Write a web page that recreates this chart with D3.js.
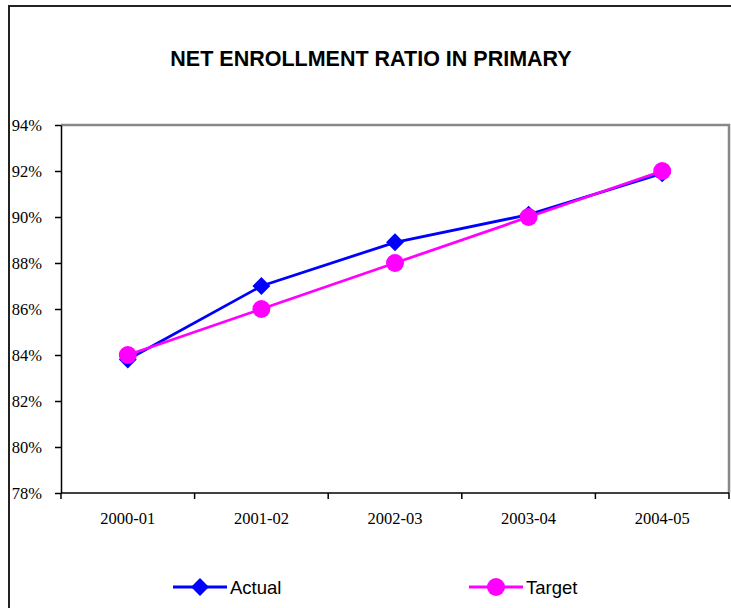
<!DOCTYPE html>
<meta charset="utf-8">
<style>
body {
  margin: 0;
  background-color: #ffffff;
}
.title {
  font-family: 'Liberation Sans', Arial, sans-serif;
  font-weight: bold;
  font-size: 21.5px;
  fill: #000;
}
.axis text {
  font-family: 'Liberation Serif', 'Times New Roman', serif;
  font-size: 16.5px;
  fill: #000;
}
.axis path,
.axis line {
  stroke: #000;
  stroke-width: 1.5px;
}
.legend text {
  font-family: 'Liberation Sans', Arial, sans-serif;
  font-size: 18.5px;
  fill: #000;
}
</style>
<svg width="731" height="608"></svg>
<script src="https://d3js.org/d3.v7.min.js"></script>
<script>
var categories = ["2000-01", "2001-02", "2002-03", "2003-04", "2004-05"];
var actual = [83.8, 87.0, 88.9, 90.1, 91.9];
var target = [84, 86, 88, 90, 92];
var yTicks = [78, 80, 82, 84, 86, 88, 90, 92, 94];

var svg = d3.select("svg"),
    margin = {top: 125, right: 2, bottom: 115, left: 61},
    width = +svg.attr("width") - margin.left - margin.right,
    height = +svg.attr("height") - margin.top - margin.bottom;

// outer chart frame (right and bottom edges are off the picture)
svg.append("path")
    .attr("d", "M9,608V6H731")
    .attr("fill", "none")
    .attr("stroke", "#222")
    .attr("stroke-width", 2);

svg.append("text")
    .attr("class", "title")
    .attr("x", 371)
    .attr("y", 66)
    .attr("text-anchor", "middle")
    .text("NET ENROLLMENT RATIO IN PRIMARY");

var x = d3.scaleBand().domain(categories).range([0, width]);
var y = d3.scaleLinear().domain([78, 94]).range([height, 0]);

var g = svg.append("g")
    .attr("transform", "translate(" + margin.left + "," + margin.top + ")");

// plot area border: top and right in grey
g.append("path")
    .attr("d", "M0,0H" + width + "V" + height)
    .attr("fill", "none")
    .attr("stroke", "#888")
    .attr("stroke-width", 2.5);

var yAxis = g.append("g")
    .attr("class", "y axis")
    .call(d3.axisLeft(y).tickValues(yTicks).tickSize(6).tickSizeOuter(0).tickPadding(13)
      .tickFormat(function(d) { return d + "%"; }));
yAxis.selectAll("text").attr("dy", "0.35em");

// x axis ticks sit on the category boundaries
var xAxis = g.append("g")
    .attr("class", "x axis")
    .attr("transform", "translate(0," + height + ")")
    .call(d3.axisBottom(x).tickSize(0).tickPadding(19));
xAxis.select(".domain").attr("d", "M0,0H" + width);
xAxis.selectAll(".bound")
    .data(d3.range(categories.length + 1))
    .enter().append("line")
    .attr("x1", function(i) { return i * x.step(); })
    .attr("x2", function(i) { return i * x.step(); })
    .attr("y1", 0)
    .attr("y2", 6)
    .attr("stroke", "#000")
    .attr("stroke-width", 1.5);

var cx = function(d, i) { return x(categories[i]) + x.bandwidth() / 2; };
var line = d3.line()
    .x(function(d, i) { return cx(d, i); })
    .y(function(d) { return y(d); });

g.append("path")
    .datum(actual)
    .attr("fill", "none")
    .attr("stroke", "#0000ff")
    .attr("stroke-width", 2.8)
    .attr("d", line);

var diamond = d3.symbol().type(d3.symbolSquare).size(160);
g.selectAll(".dia")
    .data(actual)
    .enter().append("path")
    .attr("class", "dia")
    .attr("d", diamond)
    .attr("fill", "#0000ff")
    .attr("transform", function(d, i) { return "translate(" + cx(d, i) + "," + y(d) + ") rotate(45)"; });

g.append("path")
    .datum(target)
    .attr("fill", "none")
    .attr("stroke", "#ff00ff")
    .attr("stroke-width", 2.8)
    .attr("d", line);

g.selectAll(".dot")
    .data(target)
    .enter().append("circle")
    .attr("class", "dot")
    .attr("cx", cx)
    .attr("cy", function(d) { return y(d); })
    .attr("r", 9)
    .attr("fill", "#ff00ff");

// legend
var legend = svg.append("g").attr("class", "legend");
var items = [
  {name: "Actual", color: "#0000ff", x0: 173, shape: "diamond"},
  {name: "Target", color: "#ff00ff", x0: 469, shape: "circle"}
];
items.forEach(function(it) {
  var ly = 587;
  legend.append("line")
      .attr("x1", it.x0).attr("x2", it.x0 + 54)
      .attr("y1", ly).attr("y2", ly)
      .attr("stroke", it.color)
      .attr("stroke-width", 2.8);
  if (it.shape === "diamond") {
    legend.append("path")
        .attr("d", diamond)
        .attr("fill", it.color)
        .attr("transform", "translate(" + (it.x0 + 27) + "," + ly + ") rotate(45)");
  } else {
    legend.append("circle")
        .attr("cx", it.x0 + 27).attr("cy", ly).attr("r", 9)
        .attr("fill", it.color);
  }
  legend.append("text")
      .attr("x", it.x0 + 57)
      .attr("y", ly)
      .attr("dy", "0.36em")
      .text(it.name);
});
</script>
